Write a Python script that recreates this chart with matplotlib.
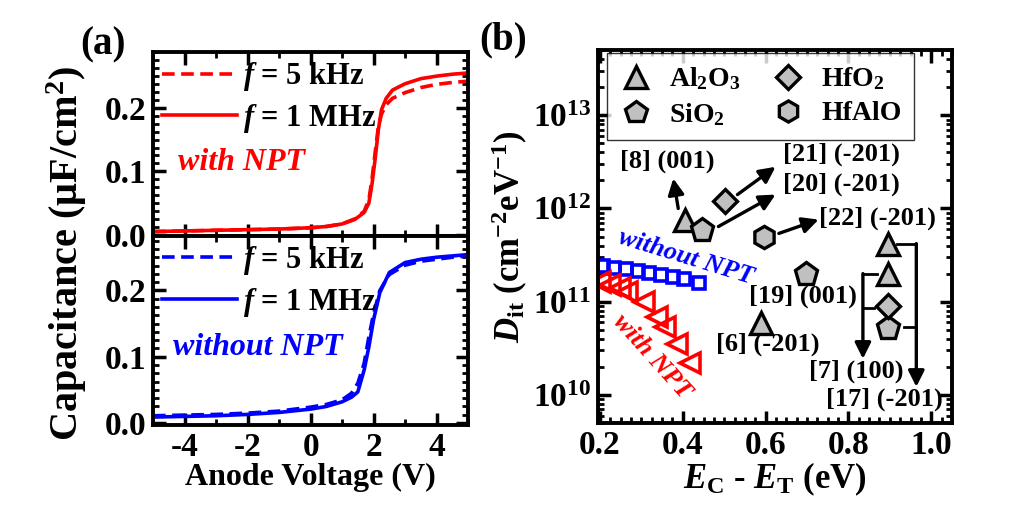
import matplotlib
matplotlib.use("Agg")
import matplotlib.pyplot as plt
from matplotlib.ticker import MultipleLocator, LogLocator, FixedLocator, FixedFormatter, NullFormatter, FormatStrFormatter

plt.rcParams['font.family'] = ['Liberation Serif', 'DejaVu Serif']
plt.rcParams['font.weight'] = 'bold'
plt.rcParams['axes.labelweight'] = 'bold'
plt.rcParams['axes.unicode_minus'] = False
plt.rcParams['mathtext.fontset'] = 'custom'
plt.rcParams['mathtext.rm'] = 'Liberation Serif:bold'
plt.rcParams['mathtext.bf'] = 'Liberation Serif:bold'
plt.rcParams['mathtext.it'] = 'Liberation Serif:italic:bold'
plt.rcParams['axes.linewidth'] = 2.8

# ---------------- Panel (a) data ----------------
v_red_1M = [-5, -4, -3, -2, -1, 0, 0.5, 1.0, 1.4, 1.7, 1.85, 1.95, 2.05, 2.15, 2.25, 2.4, 2.6, 3.0, 3.5, 4.0, 4.5, 5.0]
c_red_1M = [0.005, 0.006, 0.007, 0.008, 0.009, 0.011, 0.013, 0.017, 0.024, 0.035, 0.05, 0.08, 0.12, 0.165, 0.197, 0.215, 0.228, 0.238, 0.246, 0.250, 0.253, 0.255]
v_red_5k = [-5, -4, -3, -2, -1, 0, 0.5, 1.0, 1.4, 1.7, 1.85, 1.95, 2.05, 2.15, 2.25, 2.4, 2.6, 3.0, 3.5, 4.0, 4.5, 5.0]
c_red_5k = [0.005, 0.006, 0.007, 0.008, 0.009, 0.011, 0.013, 0.017, 0.025, 0.037, 0.055, 0.088, 0.13, 0.17, 0.19, 0.205, 0.215, 0.224, 0.232, 0.237, 0.240, 0.242]

v_blue_1M = [-5, -4, -3, -2, -1, 0, 0.5, 1.0, 1.3, 1.5, 1.7, 1.85, 2.0, 2.2, 2.5, 3.0, 3.5, 4.0, 4.5, 5.0]
c_blue_1M = [0.009, 0.010, 0.011, 0.013, 0.016, 0.021, 0.025, 0.032, 0.039, 0.047, 0.08, 0.115, 0.156, 0.197, 0.227, 0.242, 0.247, 0.250, 0.252, 0.254]
v_blue_5k = [-5, -4, -3, -2, -1, 0, 0.5, 1.0, 1.3, 1.5, 1.7, 1.85, 2.0, 2.2, 2.5, 3.0, 3.5, 4.0, 4.5, 5.0]
c_blue_5k = [0.011, 0.012, 0.013, 0.015, 0.018, 0.024, 0.028, 0.035, 0.045, 0.060, 0.09, 0.13, 0.165, 0.200, 0.224, 0.238, 0.244, 0.247, 0.250, 0.252]

# ---------------- Panel (b) data ----------------
e_without = [0.207, 0.234, 0.263, 0.292, 0.319, 0.348, 0.377, 0.404, 0.438]
d_without = [2.44e11, 2.32e11, 2.27e11, 2.15e11, 2.05e11, 1.95e11, 1.86e11, 1.73e11, 1.60e11]
e_with = [0.200, 0.224, 0.248, 0.265, 0.307, 0.338, 0.358, 0.387, 0.418]
d_with = [1.64e11, 1.52e11, 1.41e11, 1.28e11, 1.0e11, 6.9e10, 5.4e10, 3.5e10, 2.2e10]

al2o3_x = [0.405, 0.895, 0.895, 0.59]
al2o3_y = [7.6e11, 4.2e11, 2.0e11, 5.9e10]
sio2_x = [0.447, 0.697, 0.895]
sio2_y = [5.9e11, 2.0e11, 5.2e10]
hfo2_x = [0.503, 0.895]
hfo2_y = [1.19e12, 8.9e10]
hfalo_x = [0.595]
hfalo_y = [5.0e11]

y_ticks_b = [1e10, 1e11, 1e12, 1e13]
y_ticklabels_b = [r'10$^{10}$', r'10$^{11}$', r'10$^{12}$', r'10$^{13}$']

fig = plt.figure(figsize=(10.1, 5.28), dpi=100)
ax1 = fig.add_axes([0.1515, 0.553, 0.312, 0.3485])
ax2 = fig.add_axes([0.1515, 0.195, 0.312, 0.358])
ax3 = fig.add_axes([0.592, 0.199, 0.3505, 0.706])

TICKSIZE = 24

def style_ticks(ax, labelsize=TICKSIZE):
    ax.tick_params(which='both', direction='in', top=True, right=True, width=2.5)
    ax.tick_params(which='major', length=9, labelsize=labelsize, pad=5)
    ax.tick_params(which='minor', length=4.5, width=2)
    for lab in ax.get_xticklabels() + ax.get_yticklabels():
        lab.set_fontweight('bold')

lw = 2.6
dash = (0, (3.5, 1.8))
ax1.plot(v_red_5k, c_red_5k, color='#ff0000', lw=lw, ls=dash, label=r'$f$ = 5 kHz')
ax1.plot(v_red_1M, c_red_1M, color='#ff0000', lw=lw, label=r'$f$ = 1 MHz')
ax2.plot(v_blue_5k, c_blue_5k, color='#0000ff', lw=lw, ls=dash, label=r'$f$ = 5 kHz')
ax2.plot(v_blue_1M, c_blue_1M, color='#0000ff', lw=lw, label=r'$f$ = 1 MHz')

for ax in (ax1, ax2):
    ax.set_xlim(-5, 5)
    ax.xaxis.set_major_locator(MultipleLocator(2))
    ax.xaxis.set_minor_locator(MultipleLocator(1))
    ax.yaxis.set_major_locator(MultipleLocator(0.1))
    ax.yaxis.set_minor_locator(MultipleLocator(0.0125))
    ax.yaxis.set_major_formatter(FormatStrFormatter('%.1f'))
    ax.legend(loc='upper left', bbox_to_anchor=(-0.03, 1.055), frameon=False,
              fontsize=22, handlelength=2.45, handletextpad=0.2, labelspacing=0.28,
              borderaxespad=0.2)
    style_ticks(ax)

ax1.set_ylim(-0.002, 0.288)
ax2.set_ylim(-0.003, 0.282)
ax1.tick_params(labelbottom=False)
ax1.text(0.28, 0.40, 'with NPT', transform=ax1.transAxes, color='#ff0000', fontsize=23,
         fontweight='bold', fontstyle='italic', ha='center', va='center')
ax2.text(0.333, 0.41, 'without NPT', transform=ax2.transAxes, color='#0000ff', fontsize=23,
         fontweight='bold', fontstyle='italic', ha='center', va='center')
ax2.set_xlabel('Anode Voltage (V)', fontsize=23, fontweight='bold', labelpad=0)
fig.text(0.066, 0.52, 'Capacitance (μF/cm$^2$)', rotation=90, fontsize=29,
         fontweight='bold', ha='center', va='center')
fig.text(0.102, 0.915, '(a)', fontsize=28, fontweight='bold', ha='center', va='center')

# ---------------- Panel (b) ----------------
ax3.set_yscale('log')
ax3.plot(e_without, d_without, ls='none', marker='s', ms=9, mfc='none', mec='#0000ff', mew=2.6)
ax3.plot(e_with, d_with, ls='none', marker='<', ms=15, mfc='none', mec='#ff0000', mew=2.6)

gray = '#c0c0c0'
mk = dict(ls='none', mfc=gray, mec='k', mew=2.4)
ax3.plot(al2o3_x, al2o3_y, marker='^', ms=16, label=r'Al$_2$O$_3$', **mk)
ax3.plot(sio2_x, sio2_y, marker='p', ms=17, label=r'SiO$_2$', **mk)
ax3.plot(hfo2_x, hfo2_y, marker='D', ms=12.5, label=r'HfO$_2$', **mk)
ax3.plot(hfalo_x, hfalo_y, marker='h', ms=16, label='HfAlO', **mk)

ax3.set_xlim(0.195, 1.05)
ax3.set_ylim(5e9, 5e13)
ax3.xaxis.set_major_locator(MultipleLocator(0.2))
ax3.xaxis.set_minor_locator(MultipleLocator(0.025))
ax3.xaxis.set_major_formatter(FormatStrFormatter('%.1f'))
ax3.yaxis.set_major_locator(FixedLocator(y_ticks_b))
ax3.yaxis.set_major_formatter(FixedFormatter(y_ticklabels_b))
ax3.yaxis.set_minor_locator(LogLocator(base=10, subs=[2, 3, 4, 5, 6, 7, 8, 9]))
ax3.yaxis.set_minor_formatter(NullFormatter())
style_ticks(ax3)

handles, labels = ax3.get_legend_handles_labels()
order = [0, 1, 2, 3]
leg3 = ax3.legend([handles[i] for i in order], [labels[i] for i in order], ncol=2,
                  loc='upper left', bbox_to_anchor=(0.025, 0.992), borderaxespad=0,
                  fontsize=20, frameon=True, fancybox=False, edgecolor='k',
                  handlelength=1.2, handletextpad=0.6, columnspacing=1.1,
                  labelspacing=0.3, borderpad=0.45, markerscale=0.95)
leg3.get_frame().set_linewidth(1.0)

ax3.set_xlabel(r'$E_{\mathrm{C}}$ - $E_{\mathrm{T}}$ (eV)', fontsize=25, fontweight='bold', labelpad=0)
ax3.set_ylabel(r'$D_{\mathrm{it}}$ (cm$^{-2}$eV$^{-1}$)', fontsize=25, fontweight='bold', labelpad=2)
fig.text(0.498, 0.925, '(b)', fontsize=28, fontweight='bold', ha='center', va='center')

ann = dict(fontsize=19, fontweight='bold', color='k', va='center')
arrow = dict(arrowstyle='-|>', lw=2.4, color='k', mutation_scale=24, shrinkA=0, shrinkB=0)
ax3.annotate('', xy=(0.377, 2.1e12), xytext=(0.389, 1.0e12), arrowprops=arrow)
ax3.text(0.362, 3.2e12, '[8] (001)', ha='center', **ann)
ax3.annotate('', xy=(0.624, 2.8e12), xytext=(0.532, 1.41e12), arrowprops=arrow)
ax3.text(0.641, 3.8e12, '[21] (-201)', ha='left', **ann)
ax3.annotate('', xy=(0.624, 1.41e12), xytext=(0.486, 6.4e11), arrowprops=arrow)
ax3.text(0.641, 1.8e12, '[20] (-201)', ha='left', **ann)
ax3.annotate('', xy=(0.728, 7.6e11), xytext=(0.632, 5.4e11), arrowprops=arrow)
ax3.text(0.728, 7.9e11, '[22] (-201)', ha='left', **ann)
ax3.text(0.69, 1.13e11, '[19] (001)', ha='center', **ann)
ax3.text(0.605, 3.5e10, '[6] (-201)', ha='center', **ann)
ax3.text(0.818, 1.78e10, '[7] (100)', ha='center', **ann)
ax3.text(0.886, 8.9e9, '[17] (-201)', ha='center', **ann)

# bracket for [7]
ax3.plot([0.869, 0.835], [2.0e11, 2.0e11], color='k', lw=2)
ax3.plot([0.862, 0.835], [8.6e10, 8.6e10], color='k', lw=2)
ax3.annotate('', xy=(0.835, 2.44e10), xytext=(0.835, 2.0e11), arrowprops=arrow)
# bracket for [17]
ax3.plot([0.918, 0.964], [4.2e11, 4.2e11], color='k', lw=2)
ax3.plot([0.935, 0.964], [5.3e10, 5.3e10], color='k', lw=2)
ax3.annotate('', xy=(0.964, 1.22e10), xytext=(0.964, 4.2e11), arrowprops=arrow)

ax3.text(0.408, 3.0e11, 'without NPT', color='#0000ff', fontsize=19, fontweight='bold',
         fontstyle='italic', rotation=-17, ha='center', va='center')
ax3.text(0.326, 2.6e10, 'with NPT', color='#ff0000', fontsize=19, fontweight='bold',
         fontstyle='italic', rotation=-48, ha='center', va='center')

fig.savefig('out.png', dpi=100)
